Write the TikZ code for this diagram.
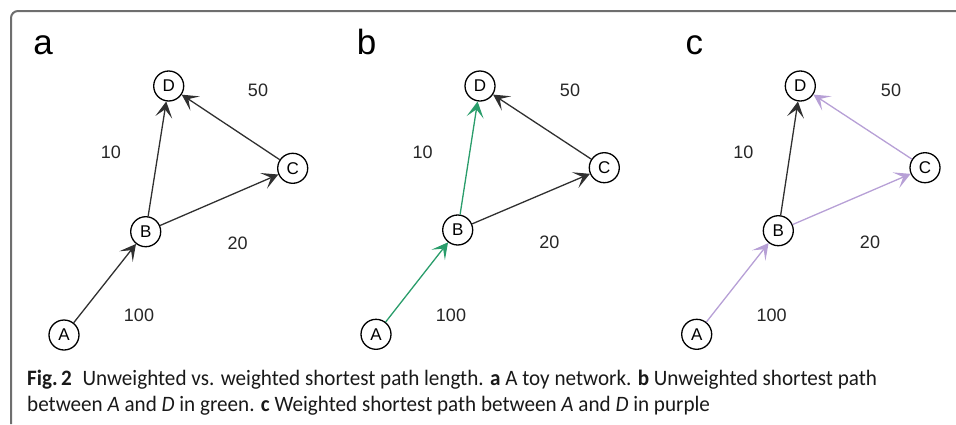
\documentclass[tikz,border=0pt]{standalone}
\usepackage{fontspec}
\setmainfont{Liberation Sans}
\newfontfamily\capfont{Carlito}
\usetikzlibrary{arrows.meta}

\definecolor{edgegray}{HTML}{303030}
\definecolor{pathgreen}{HTML}{2A9D6B}
\definecolor{pathpurple}{HTML}{B7A0D6}
\definecolor{framegray}{HTML}{6E6E6E}

\begin{document}
\begin{tikzpicture}[x=1pt,y=-1pt,
  vertex/.style={circle, draw=black, line width=1.3pt, minimum size=30pt,
                 inner sep=0pt, font=\fontsize{17}{17}\selectfont},
  weight/.style={font=\fontsize{18}{18}\selectfont, text=black!85},
  panel/.style={font=\fontsize{35}{35}\selectfont, anchor=base},
  edge/.style={draw=edgegray, line width=1.3pt,
               -{Stealth[length=16pt,width=17pt,inset=8pt]}},
  green edge/.style={edge, draw=pathgreen, fill=pathgreen},
  purple edge/.style={edge, draw=pathpurple, fill=pathpurple},
  caption/.style={anchor=base west, inner sep=0pt,
                  font=\capfont\fontsize{22}{26}\selectfont, text=black!90},
  frame/.style={draw=framegray, line width=2pt, rounded corners=7pt}]

\useasboundingbox (0,0) rectangle (956,424);

% outer frame (top-left corner only)
\draw[frame] (11,424) -- (11,11) -- (956,11);

% ---------- panel a: toy network ----------
\node[panel] (la) at (43,54.5) {a};
\node[vertex] (aD) at (168.7,86) {D};
\node[vertex] (aC) at (292.7,168.3) {C};
\node[vertex] (aB) at (145.7,231.7) {B};
\node[vertex] (aA) at (64,335) {A};
\draw[edge] (aA) -- (aB);
\draw[edge] (aB) -- (aD);
\draw[edge] (aB) -- (aC);
\draw[edge] (aC) -- (aD);
\node[weight] (aw50)  at (258,90)    {50};
\node[weight] (aw10)  at (111,152)   {10};
\node[weight] (aw20)  at (237.7,243) {20};
\node[weight] (aw100) at (139,315.7) {100};

% ---------- panel b: unweighted shortest path ----------
\node[panel] (lb) at (366.7,54.5) {b};
\node[vertex] (bD) at (480,86) {D};
\node[vertex] (bC) at (604.3,167.7) {C};
\node[vertex] (bB) at (457.7,230) {B};
\node[vertex] (bA) at (376,334.3) {A};
\draw[green edge] (bA) -- (bB);
\draw[green edge] (bB) -- (bD);
\draw[edge] (bB) -- (bC);
\draw[edge] (bC) -- (bD);
\node[weight] (bw50)  at (570,90)      {50};
\node[weight] (bw10)  at (422.7,152)   {10};
\node[weight] (bw20)  at (549.3,242.7) {20};
\node[weight] (bw100) at (451,315)     {100};

% ---------- panel c: weighted shortest path ----------
\node[panel] (lc) at (694.3,54.5) {c};
\node[vertex] (cD) at (800.3,86) {D};
\node[vertex] (cC) at (925,167.7) {C};
\node[vertex] (cB) at (778.3,230.7) {B};
\node[vertex] (cA) at (696.7,334.3) {A};
\draw[purple edge] (cA) -- (cB);
\draw[edge] (cB) -- (cD);
\draw[purple edge] (cB) -- (cC);
\draw[purple edge] (cC) -- (cD);
\node[weight] (cw50)  at (891,90)      {50};
\node[weight] (cw10)  at (743.3,152)   {10};
\node[weight] (cw20)  at (870,242.7)   {20};
\node[weight] (cw100) at (771.7,315)   {100};

% ---------- caption (slightly condensed) ----------
\node[caption] (cap1) at (27,385)
  {\scalebox{0.96}[1]{\textbf{Fig.\,2}\hspace{0.5em}Unweighted vs. weighted shortest path length. \textbf{a} A toy network. \textbf{b} Unweighted shortest path}};
\node[caption] (cap2) at (27,411)
  {\scalebox{0.96}[1]{between \textit{A} and \textit{D} in green. \textbf{c} Weighted shortest path between \textit{A} and \textit{D} in purple}};
\end{tikzpicture}
\end{document}
